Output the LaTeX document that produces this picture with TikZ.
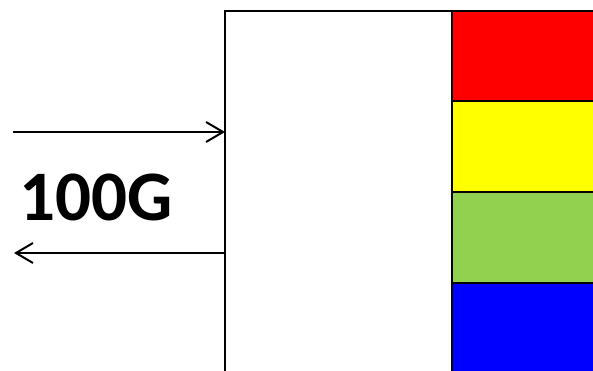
\documentclass[tikz,border=0pt]{standalone}
\usepackage{fontspec}
\setmainfont{Carlito}
\usetikzlibrary{arrows.meta}
\definecolor{lgreen}{RGB}{146,208,80}
\definecolor{pred}{RGB}{255,0,0}
\definecolor{pyellow}{RGB}{255,255,0}
\definecolor{pblue}{RGB}{0,0,255}
\begin{document}
\begin{tikzpicture}[x=1pt,y=-1pt,
  blk/.style={draw=black,line width=2pt,inner sep=0pt,outer sep=0pt},
  conn/.style={line width=2pt,-{Straight Barb[length=17pt,width=20pt,line width=2pt]}}]
\useasboundingbox (0,0) rectangle (593,371);
\draw[blk,fill=white] (225,11) rectangle (452,400);
\draw[blk,fill=pred] (452,11) rectangle (610,101);
\draw[blk,fill=pyellow] (452,101) rectangle (610,192);
\draw[blk,fill=lgreen] (452,192) rectangle (610,283);
\draw[blk,fill=pblue] (452,283) rectangle (610,400);
\coordinate (boxin) at (225,132);
\coordinate (boxout) at (225,253);
\coordinate (srcin) at (13,132);
\coordinate (dstout) at (14,253);
\draw[conn] (srcin) -- (boxin);
\draw[conn] (boxout) -- (dstout);
\node[anchor=base west,inner sep=0pt,font=\fontsize{71}{71}\selectfont\bfseries] (lbl) at (19,220) {100G};
\end{tikzpicture}
\end{document}
